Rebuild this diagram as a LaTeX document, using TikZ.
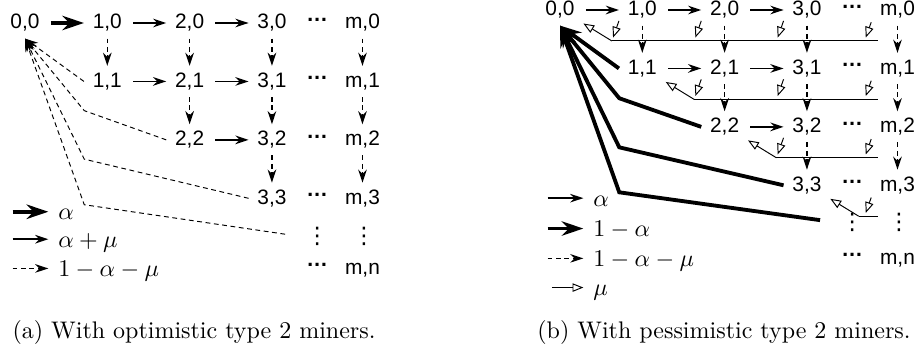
\documentclass[tikz,border=0pt]{standalone}
\usepackage{amsmath,amssymb}
\usepackage{fontspec}
\usepackage{tikz}
\usetikzlibrary{arrows.meta}
\newfontfamily\statefont{Liberation Sans}
\newfontfamily\ellfont{DejaVu Sans}

\newcommand{\hell}{\raisebox{2.6pt}{…}}

\tikzset{
  state/.style={font=\statefont\fontsize{8.7}{10}\selectfont, inner xsep=3.5pt, inner ysep=2.5pt, text height=6.2pt, text depth=1.4pt},
  ell/.style={font=\statefont\bfseries\fontsize{9}{10}\selectfont, inner sep=0pt},
  vell/.style={font=\ellfont\fontsize{9.5}{10}\selectfont, inner sep=2.5pt},
  fwd/.style={semithick, shorten <=1pt, -{Stealth[length=5.5pt,width=3.6pt]}},
  fwdbold/.style={line width=1.6pt, -{Stealth[length=9pt,width=6pt]}},
  down/.style={semithick, dash pattern=on 2pt off 1.5pt, -{Stealth[length=5.5pt,width=3.6pt]}},
  back/.style={thin, dash pattern=on 2pt off 1.5pt, -{Stealth[length=5.5pt,width=3.6pt]}},
  mu/.style={thin, -{Triangle[open,length=4.5pt,width=3.5pt]}},
  bus/.style={thin},
  key/.style={anchor=west, inner sep=0pt, text height=6.6pt, text depth=0pt},
}

\begin{document}
\begin{tikzpicture}[x=0.4167pt, y=-0.4167pt]
\useasboundingbox (0,0) rectangle (919,352);

% (a) optimistic type 2 miners
\begin{scope}[shift={(25,23)}, x=34.3pt, y=-24.35pt]
  \foreach \j in {0,...,3} {
    \foreach \i in {\j,...,3} {
      \node[state] (a\i\j) at (\i,\j) {\i,\j};
    }
    \node[ell] (ad\j) at (3.55,\j) {\hell};
    \node[state] (am\j) at (4.1,\j) {m,\j};
  }
  \node[vell] (av) at (3.55,3.65) {⋮};
  \node[vell] (avm) at (4.12,3.65) {⋮};
  \node[ell] (adn) at (3.55,4.2) {\hell};
  \node[state] (amn) at (4.1,4.2) {m,n};

  \draw[fwdbold, shorten <=1pt] (a00) -- (a10);
  \foreach \i/\j in {1/0,2/0,1/1,2/1,2/2} {
    \pgfmathtruncatemacro\k{\i+1}
    \draw[fwd] (a\i\j) -- (a\k\j);
  }
  \foreach \i/\j in {1/0,2/0,3/0,2/1,3/1,3/2} {
    \pgfmathtruncatemacro\k{\j+1}
    \draw[down] (a\i\j) -- (a\i\k);
  }
  \foreach \j in {0,1,2} {
    \pgfmathtruncatemacro\k{\j+1}
    \draw[down] (am\j) -- (am\k);
  }

  % back to 0,0
  \coordinate (ac1) at (0.72,1.5);
  \coordinate (ac2) at (0.72,2.33);
  \coordinate (ac3) at (0.72,3.11);
  \draw[back] (a11.west) -- (a00.south);
  \draw[back] (a22.west) -- (ac1) -- (a00.south);
  \draw[back] (a33.west) -- (ac2) -- (a00.south);
  \draw[back, shorten <=6pt] (av.west) -- (ac3) -- (a00.south);

  % legend
  \node[key] (ak1) at (0.4,3.23) {$\alpha$};
  \node[key] (ak2) at (0.4,3.7) {$\alpha+\mu$};
  \node[key] (ak3) at (0.4,4.2) {$1-\alpha-\mu$};
  \coordinate (aa1) at (-0.15,3.23);
  \coordinate (aa2) at (-0.15,3.7);
  \coordinate (aa3) at (-0.15,4.2);
  \draw[fwdbold, shorten >=4pt] (aa1) -- (ak1.west);
  \draw[fwd, shorten <=0pt, shorten >=4pt] (aa2) -- (ak2.west);
  \draw[down, shorten >=4pt] (aa3) -- (ak3.west);
\end{scope}

% (b) pessimistic type 2 miners
\begin{scope}[shift={(560,10)}, x=34.3pt, y=-24.35pt]
  \foreach \j in {0,...,3} {
    \foreach \i in {\j,...,3} {
      \node[state] (b\i\j) at (\i,\j) {\i,\j};
    }
    \node[ell] (bd\j) at (3.55,\j) {\hell};
    \node[state] (bm\j) at (4.1,\j) {m,\j};
  }
  \node[vell] (bv) at (3.55,3.63) {⋮};
  \node[vell] (bvm) at (4.12,3.63) {⋮};
  \node[ell] (bdn) at (3.55,4.25) {\hell};
  \node[state] (bmn) at (4.1,4.25) {m,n};

  \foreach \i/\j in {0/0,1/0,2/0,1/1,2/1,2/2} {
    \pgfmathtruncatemacro\k{\i+1}
    \draw[fwd] (b\i\j) -- (b\k\j);
  }
  \foreach \i/\j in {1/0,2/0,3/0,2/1,3/1,3/2} {
    \pgfmathtruncatemacro\k{\j+1}
    \draw[down] (b\i\j) -- (b\i\k);
  }
  \foreach \j in {0,1,2} {
    \pgfmathtruncatemacro\k{\j+1}
    \draw[down] (bm\j) -- (bm\k);
  }

  % mu: each row collects into a line back to its diagonal state
  \foreach \j in {0,...,3} {
    \coordinate (bb\j) at (\j+0.63,\j+0.53);
    \coordinate (be\j) at (3.86,\j+0.53);
    \draw[bus] (bb\j) -- (be\j);
    \draw[mu] (bb\j) -- (b\j\j.-30);
    \coordinate (btm\j) at (3.7,\j+0.53);
    \draw[mu, shorten >=1.5pt] (bm\j.205) -- (btm\j);
  }
  \foreach \i/\j in {1/0,2/0,3/0,2/1,3/1,3/2} {
    \coordinate (bt\i\j) at (\i-0.37,\j+0.53);
    \draw[mu, shorten >=1.5pt] (b\i\j.205) -- (bt\i\j);
  }

  % 1-alpha back to 0,0
  \coordinate (bc1) at (0.72,1.51);
  \coordinate (bc2) at (0.72,2.35);
  \coordinate (bc3) at (0.72,3.12);
  \draw[fwdbold] (b11.west) -- (b00.south);
  \draw[fwdbold] (b22.west) -- (bc1) -- (b00.south);
  \draw[fwdbold] (b33.west) -- (bc2) -- (b00.south);
  \draw[fwdbold, shorten <=6pt] (bv.west) -- (bc3) -- (b00.south);

  % legend
  \node[key] (bk1) at (0.4,3.22) {$\alpha$};
  \node[key] (bk2) at (0.4,3.74) {$1-\alpha$};
  \node[key] (bk3) at (0.4,4.25) {$1-\alpha-\mu$};
  \node[key] (bk4) at (0.4,4.75) {$\mu$};
  \coordinate (ba1) at (-0.15,3.22);
  \coordinate (ba2) at (-0.15,3.74);
  \coordinate (ba3) at (-0.15,4.25);
  \coordinate (ba4) at (-0.1,4.75);
  \draw[fwd, shorten <=0pt, shorten >=4pt] (ba1) -- (bk1.west);
  \draw[fwdbold, shorten >=4pt] (ba2) -- (bk2.west);
  \draw[down, shorten >=4pt] (ba3) -- (bk3.west);
  \draw[mu, shorten >=4pt] (ba4) -- (bk4.west);
\end{scope}

\node[anchor=base] (capa) at (194,338) {(a) With optimistic type 2 miners.};
\node[anchor=base] (capb) at (724,338) {(b) With pessimistic type 2 miners.};
\end{tikzpicture}
\end{document}
